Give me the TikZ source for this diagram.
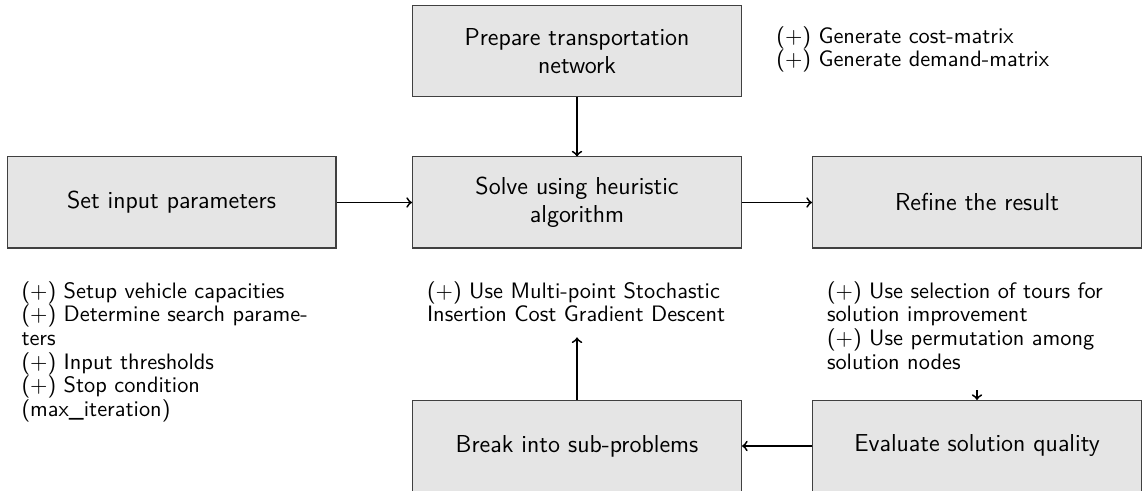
\documentclass[tikz,border=0pt]{standalone}
\begin{document}
\sffamily
\begin{tikzpicture}[x=0.49pt,y=-0.49pt,
  stepbox/.style={draw=black!75, line width=0.5pt, fill=black!10,
    minimum width=161.2pt, minimum height=44.6pt, inner sep=0pt,
    align=center, font=\sffamily\fontsize{12}{13.8}\selectfont},
  note/.style={inner sep=0pt, text width=147pt, align=left,
    font=\sffamily\fontsize{10.95}{11.6}\selectfont},
  flow/.style={->, line width=0.9pt}]
\useasboundingbox (0,0) rectangle (1146,491);

% process steps
\node[stepbox] (prep)   at (577,51)      {Prepare transportation\\network};
\node[stepbox] (setp)   at (171.5,202.5) {Set input parameters};
\node[stepbox] (solve)  at (577,202.5)   {Solve using heuristic\\algorithm};
\node[stepbox] (refine) at (977,202.5)   {Refine the result};
\node[stepbox] (brk)    at (577,446)     {Break into sub-problems};
\node[stepbox] (eval)   at (977,446)     {Evaluate solution quality};

% notes attached to the steps
\node[note, anchor=north west] (prepnote) at (776,26)
  {(+) Generate cost-matrix\\(+) Generate demand-matrix};
\node[note, anchor=north] (setnote) at (171.5,281)
  {(+) Setup vehicle capacities\\(+) Determine search parame-\\ters\\(+) Input thresholds\\(+) Stop condition\\(max\_iteration)};
\node[note, anchor=north] (solvenote) at (577,281)
  {(+) Use Multi-point Stochastic\\Insertion Cost Gradient Descent};
\node[note, anchor=north] (refnote) at (977,281)
  {(+) Use selection of tours for\\solution improvement\\(+) Use permutation among\\solution nodes};

% flow of the procedure
\draw[flow] (prep) -- (solve);
\draw[flow] (setp) -- (solve);
\draw[flow] (solve) -- (refine);
\draw[flow] (eval) -- (brk);
\draw[flow, shorten >=7.3pt] (brk.north) -- (solvenote.south);
\draw[flow, shorten <=10pt] (refnote.south) -- (eval.north);
\end{tikzpicture}
\end{document}
